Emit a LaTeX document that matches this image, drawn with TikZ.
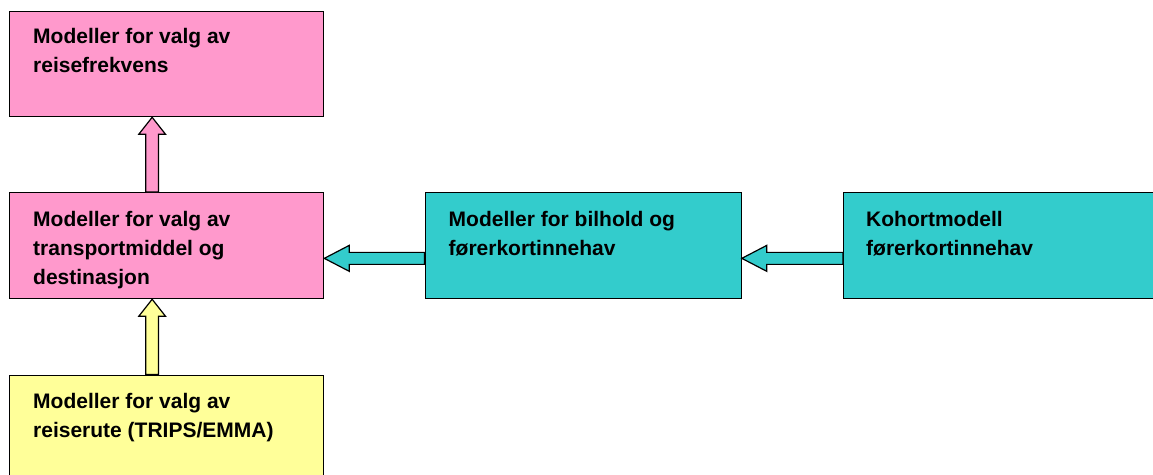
\documentclass[tikz,border=0pt]{standalone}
\usepackage{fontspec}
\setmainfont{Liberation Sans}
\usetikzlibrary{calc}
\definecolor{boxpink}{HTML}{FF99CC}
\definecolor{boxteal}{HTML}{33CCCC}
\definecolor{boxyellow}{HTML}{FFFF99}
\tikzset{
  box/.style={draw=black, line width=1.3pt, rectangle, inner sep=0pt, anchor=north west},
  boxtext/.style={anchor=north west, inner sep=0pt, align=left,
    font=\fontsize{21}{28.7}\selectfont\bfseries},
  blockarrow/.style={draw=black, line width=1.2pt, line join=miter},
}
\begin{document}
\begin{tikzpicture}[x=1pt,y=1pt]
\useasboundingbox (0,0) rectangle (1153,-474);
% boxes
\node[box, fill=boxpink, minimum width=314pt, minimum height=105pt] (b1) at (9,-11) {};
\node[box, fill=boxpink, minimum width=314pt, minimum height=106pt] (b2) at (9,-192) {};
\node[box, fill=boxyellow, minimum width=314pt, minimum height=120pt] (b3) at (9,-374.5) {};
\node[box, fill=boxteal, minimum width=316pt, minimum height=106pt] (b4) at (424.5,-192) {};
\node[box, fill=boxteal, minimum width=330pt, minimum height=106pt] (b5) at (843,-192) {};
% texts
\node[boxtext] (t1) at ($(b1.north west)+(24,-17)$) {Modeller for valg av\\reisefrekvens};
\node[boxtext] (t2) at ($(b2.north west)+(24,-19.5)$) {Modeller for valg av\\transportmiddel og\\destinasjon};
\node[boxtext] (t3) at ($(b3.north west)+(24,-19)$) {Modeller for valg av\\reiserute (TRIPS/EMMA)};
\node[boxtext] (t4) at ($(b4.north west)+(24,-19.5)$) {Modeller for bilhold og\\førerkortinnehav};
\node[boxtext] (t5) at ($(b5.north west)+(23,-19.5)$) {Kohortmodell\\førerkortinnehav};
% vertical block arrows
\draw[blockarrow, fill=boxpink]
  let \p1=($(b2.north)+(-14.5pt,0)$), \p2=($(b1.south)+(-14.5pt,0)$) in
  (\x1-6.35pt,\y1) -- (\x1-6.35pt,\y2-17pt) -- (\x1-13.4pt,\y2-17pt) -- (\x2,\y2)
  -- (\x1+13.4pt,\y2-17pt) -- (\x1+6.35pt,\y2-17pt) -- (\x1+6.35pt,\y1) -- cycle;
\draw[blockarrow, fill=boxyellow]
  let \p1=($(b3.north)+(-14.5pt,0)$), \p2=($(b2.south)+(-14.5pt,0)$) in
  (\x1-6.35pt,\y1) -- (\x1-6.35pt,\y2-17pt) -- (\x1-13.4pt,\y2-17pt) -- (\x2,\y2)
  -- (\x1+13.4pt,\y2-17pt) -- (\x1+6.35pt,\y2-17pt) -- (\x1+6.35pt,\y1) -- cycle;
% horizontal block arrows
\draw[blockarrow, fill=boxteal]
  let \p1=($(b4.west)+(0,-12.7pt)$), \p2=($(b2.east)+(0,-12.7pt)$) in
  (\x1,\y1+6pt) -- (\x2+25pt,\y1+6pt) -- (\x2+25pt,\y1+13pt) -- (\x2,\y1)
  -- (\x2+25pt,\y1-13pt) -- (\x2+25pt,\y1-6pt) -- (\x1,\y1-6pt) -- cycle;
\draw[blockarrow, fill=boxteal]
  let \p1=($(b5.west)+(0,-12.7pt)$), \p2=($(b4.east)+(0,-12.7pt)$) in
  (\x1,\y1+6pt) -- (\x2+25pt,\y1+6pt) -- (\x2+25pt,\y1+13pt) -- (\x2,\y1)
  -- (\x2+25pt,\y1-13pt) -- (\x2+25pt,\y1-6pt) -- (\x1,\y1-6pt) -- cycle;
\end{tikzpicture}
\end{document}
